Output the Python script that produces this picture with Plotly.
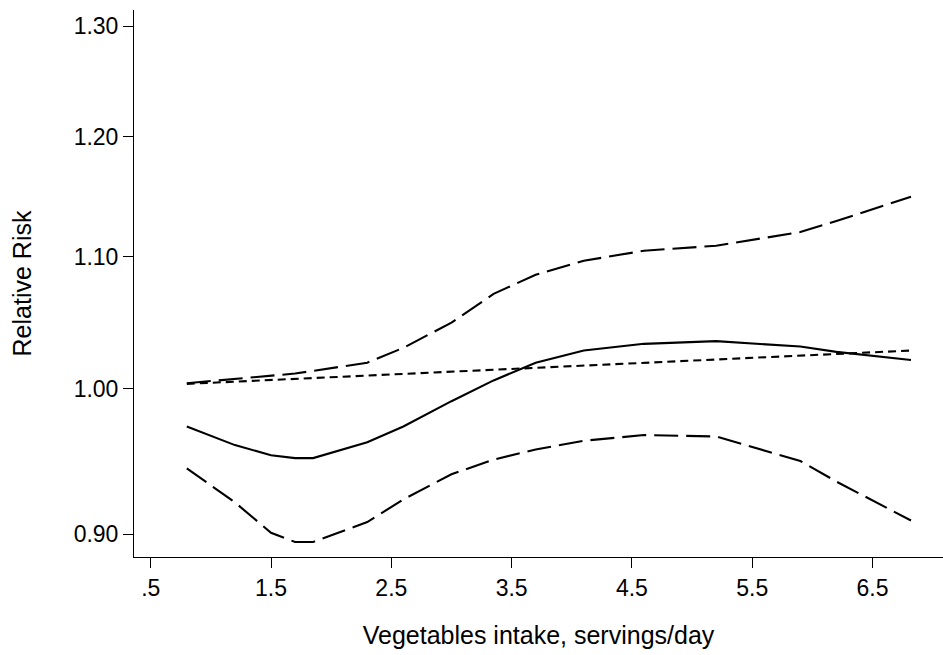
import plotly.graph_objects as go

# Vegetables intake (servings/day) at which the curves are evaluated
intake = [0.8, 1.2, 1.5, 1.7, 1.85, 2.3, 2.6, 3.0, 3.35, 3.7, 4.1, 4.6, 5.2, 5.9, 6.2, 6.82]

# Non-linear dose-response estimate (relative risk)
rr_spline = [0.973, 0.960, 0.953, 0.951, 0.951, 0.962, 0.973, 0.991, 1.006, 1.019,
             1.028, 1.033, 1.035, 1.031, 1.027, 1.021]
# 95% confidence limits
rr_upper = [1.004, 1.007, 1.009, 1.011, 1.013, 1.019, 1.030, 1.049, 1.071, 1.086,
            1.097, 1.105, 1.109, 1.120, 1.129, 1.149]
rr_lower = [0.944, 0.921, 0.901, 0.895, 0.895, 0.908, 0.923, 0.940, 0.950, 0.957,
            0.963, 0.967, 0.966, 0.949, 0.935, 0.909]
# Linear (log-linear) trend
rr_linear = [1.0035, 1.0051, 1.0063, 1.0071, 1.0077, 1.0095, 1.0108, 1.0124, 1.0138,
             1.0152, 1.0168, 1.0189, 1.0213, 1.0242, 1.0254, 1.0280]

x_ticks = [0.5, 1.5, 2.5, 3.5, 4.5, 5.5, 6.5]
x_ticklabels = [".5", "1.5", "2.5", "3.5", "4.5", "5.5", "6.5"]
y_ticks = [0.90, 1.00, 1.10, 1.20, 1.30]
y_ticklabels = ["0.90", "1.00", "1.10", "1.20", "1.30"]

FONT = "Liberation Sans, Arial, sans-serif"

fig = go.Figure()
fig.add_trace(go.Scatter(x=intake, y=rr_upper, mode="lines",
                         line=dict(color="black", width=2.1, dash="24px,8px")))
fig.add_trace(go.Scatter(x=intake, y=rr_lower, mode="lines",
                         line=dict(color="black", width=2.1, dash="24px,8px")))
fig.add_trace(go.Scatter(x=intake, y=rr_linear, mode="lines",
                         line=dict(color="black", width=2.1, dash="8px,5px")))
fig.add_trace(go.Scatter(x=intake, y=rr_spline, mode="lines",
                         line=dict(color="black", width=2.1)))

fig.update_layout(
    width=943, height=655,
    margin=dict(l=134, r=0, t=10, b=98),
    paper_bgcolor="white", plot_bgcolor="white",
    showlegend=False,
    font=dict(family=FONT, size=23, color="black"),
    xaxis=dict(
        range=[0.361, 7.086],
        tickvals=x_ticks, ticktext=x_ticklabels,
        ticks="outside", ticklen=10, tickwidth=1, tickcolor="black",
        tickfont=dict(size=23),
        showline=True, linecolor="black", linewidth=1,
        showgrid=False, zeroline=False,
        title=dict(text="Vegetables intake, servings/day", standoff=26,
                   font=dict(size=25)),
    ),
    yaxis=dict(
        type="log",
        range=[-0.05289, 0.11901],
        tickvals=y_ticks, ticktext=y_ticklabels,
        ticks="outside", ticklen=10, tickwidth=1, tickcolor="black",
        tickfont=dict(size=23),
        showline=True, linecolor="black", linewidth=1,
        showgrid=False, zeroline=False,
        title=dict(text="Relative Risk", standoff=34, font=dict(size=25)),
    ),
)

fig.write_html("out.html")
